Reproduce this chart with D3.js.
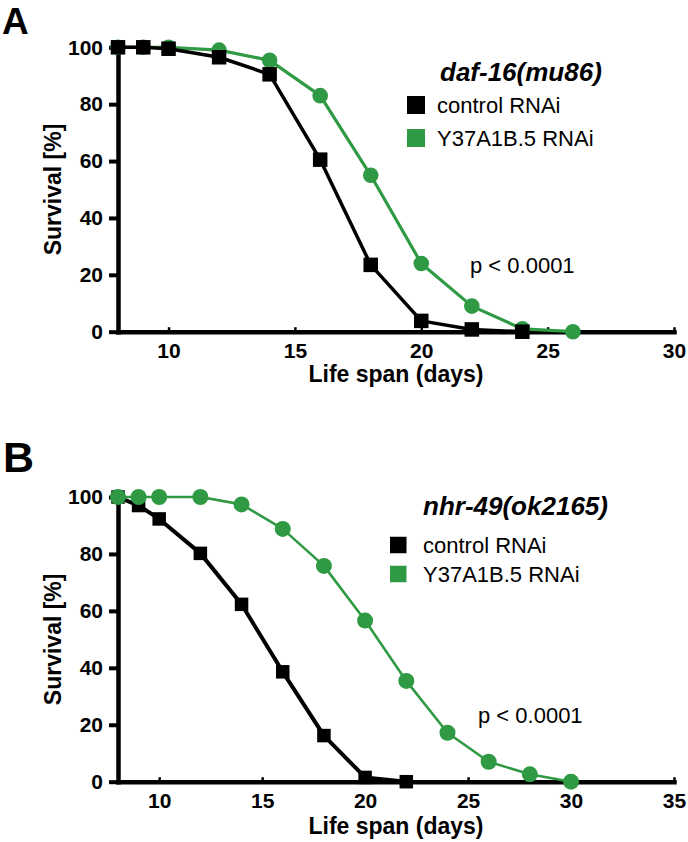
<!DOCTYPE html>
<html>
<head>
<meta charset="utf-8">
<script src="https://cdn.jsdelivr.net/npm/d3@7"></script>
<style>
  html, body { margin: 0; padding: 0; background: #fff; }
  svg { display: block; font-family: "Liberation Sans", Arial, sans-serif; }
</style>
</head>
<body>
<svg id="chart" width="688" height="842"></svg>
<script>
// ---------- data ----------
const daysA_control = [8, 9, 10, 12, 14, 16, 18, 20, 22, 24];
const survA_control = [100, 100, 99.5, 96.5, 90.5, 60.5, 23.5, 3.8, 0.8, 0];
const daysA_y37 = [8, 9, 10, 12, 14, 16, 18, 20, 22, 24, 26];
const survA_y37 = [100, 100, 100, 99, 95.4, 83, 55, 24, 9, 1, 0];

const daysB_control = [8, 9, 10, 12, 14, 16, 18, 20, 22];
const survB_control = [100, 97, 92.3, 80.2, 62.3, 38.6, 16.2, 1.5, 0];
const daysB_y37 = [8, 9, 10, 12, 14, 16, 18, 20, 22, 24, 26, 28, 30];
const survB_y37 = [100, 100, 100, 100, 97.4, 88.8, 75.8, 56.6, 35.4, 17.2, 7, 2.6, 0];

const yTicks = [0, 20, 40, 60, 80, 100];
const xTicksA = [10, 15, 20, 25, 30];
const xTicksB = [10, 15, 20, 25, 30, 35];
const seriesNames = ["control RNAi", "Y37A1B.5 RNAi"];
const panelLabels = ["A", "B"];
const strainTitles = ["daf-16(mu86)", "nhr-49(ok2165)"];
const pText = "p < 0.0001";
const xTitle = "Life span (days)";
const yTitle = "Survival [%]";

const BLACK = "#000000";
const GREEN = "#2f9a43";

const svg = d3.select("#chart");

function drawPanel(cfg) {
  const g = svg.append("g");
  const x = d3.scaleLinear().domain(cfg.xDomain).range([118, 674]);
  const y = d3.scaleLinear().domain([0, 100]).range([cfg.y0, cfg.y100]);

  // panel letter
  g.append("text").attr("x", cfg.letterX).attr("y", cfg.letterY)
    .attr("font-size", cfg.letterSize).attr("font-weight", "bold")
    .text(cfg.letter);

  // y axis
  const yAxis = g.append("g").attr("transform", "translate(118,0)")
    .call(d3.axisLeft(y).tickValues(yTicks).tickSize(9).tickSizeOuter(0).tickPadding(6));
  yAxis.select(".domain").attr("stroke-width", 4.5).attr("stroke-linecap", "square");
  yAxis.selectAll(".tick line").attr("stroke-width", 4);
  yAxis.selectAll(".tick text").attr("font-size", 21).attr("font-weight", "bold")
    .attr("font-family", "Liberation Sans, Arial, sans-serif").attr("fill", "#000");

  // x axis
  const xAxis = g.append("g").attr("transform", `translate(0,${cfg.y0})`)
    .call(d3.axisBottom(x).tickValues(cfg.xTicks).tickSize(-4.5).tickSizeOuter(0).tickPadding(11));
  xAxis.select(".domain").attr("stroke-width", 4.5).attr("stroke-linecap", "square");
  xAxis.selectAll(".tick line").attr("stroke-width", 2.5);
  xAxis.selectAll(".tick text").attr("font-size", 21).attr("font-weight", "bold")
    .attr("font-family", "Liberation Sans, Arial, sans-serif").attr("fill", "#000")
    .attr("dy", "0.74em");

  // axis titles
  g.append("text").attr("x", 396).attr("y", cfg.y0 + cfg.xTitleOff)
    .attr("text-anchor", "middle").attr("font-size", 23).attr("font-weight", "bold")
    .text(xTitle);
  g.append("text")
    .attr("transform", `translate(61,${(cfg.y0 + cfg.y100) / 2}) rotate(-90)`)
    .attr("text-anchor", "middle").attr("font-size", 23).attr("font-weight", "bold")
    .text(yTitle);

  const line = d3.line().x(d => x(d[0])).y(d => y(d[1]));

  function drawControl() {
    const data = d3.zip(cfg.cDays, cfg.cSurv);
    g.append("path").datum(data).attr("d", line).attr("fill", "none")
      .attr("stroke", BLACK).attr("stroke-width", cfg.cLineW).attr("stroke-linejoin", "round");
    g.selectAll(null).data(data).enter().append("rect")
      .attr("x", d => x(d[0]) - cfg.sq / 2).attr("y", d => y(d[1]) - cfg.sq / 2)
      .attr("width", cfg.sq).attr("height", cfg.sq).attr("fill", BLACK);
  }
  function drawY37() {
    const data = d3.zip(cfg.gDays, cfg.gSurv);
    g.append("path").datum(data).attr("d", line).attr("fill", "none")
      .attr("stroke", GREEN).attr("stroke-width", cfg.gLineW).attr("stroke-linejoin", "round");
    g.selectAll(null).data(data).enter().append("circle")
      .attr("cx", d => x(d[0])).attr("cy", d => y(d[1]))
      .attr("r", cfg.r).attr("fill", GREEN);
  }
  if (cfg.greenOnTop) { drawControl(); drawY37(); } else { drawY37(); drawControl(); }

  // legend
  g.append("text").attr("x", cfg.legTitleX).attr("y", cfg.legTitleY)
    .attr("font-size", 26).attr("font-weight", "bold").attr("font-style", "italic")
    .text(cfg.strain);
  [BLACK, GREEN].forEach((c, i) => {
    const cy = cfg.legY[i];
    g.append("rect").attr("x", cfg.legSqX).attr("y", cy - cfg.legSq / 2)
      .attr("width", cfg.legSq).attr("height", cfg.legSq).attr("fill", c);
    g.append("text").attr("x", cfg.legTextX).attr("y", cy + 8)
      .attr("font-size", 22).text(seriesNames[i]);
  });

  g.append("text").attr("x", cfg.pX).attr("y", cfg.pY)
    .attr("font-size", 22).text(pText);
}

drawPanel({
  letter: panelLabels[0], letterX: 2, letterY: 34, letterSize: 37,
  xDomain: [8, 30], xTicks: xTicksA, y0: 331.7, y100: 47.3, xTitleOff: 50,
  cDays: daysA_control, cSurv: survA_control, gDays: daysA_y37, gSurv: survA_y37,
  sq: 14.5, r: 7.8, cLineW: 3.5, gLineW: 3.2, greenOnTop: false,
  strain: strainTitles[0], legTitleX: 440, legTitleY: 81,
  legSqX: 407, legSq: 18, legY: [105, 138], legTextX: 437,
  pX: 470, pY: 273
});

drawPanel({
  letter: panelLabels[1], letterX: 3, letterY: 472, letterSize: 43,
  xDomain: [8, 35], xTicks: xTicksB, y0: 781.7, y100: 497, xTitleOff: 52,
  cDays: daysB_control, cSurv: survB_control, gDays: daysB_y37, gSurv: survB_y37,
  sq: 13.5, r: 8, cLineW: 4, gLineW: 2.6, greenOnTop: true,
  strain: strainTitles[1], legTitleX: 423, legTitleY: 515,
  legSqX: 390, legSq: 16.5, legY: [545, 574], legTextX: 423,
  pX: 478, pY: 723
});
</script>
</body>
</html>
